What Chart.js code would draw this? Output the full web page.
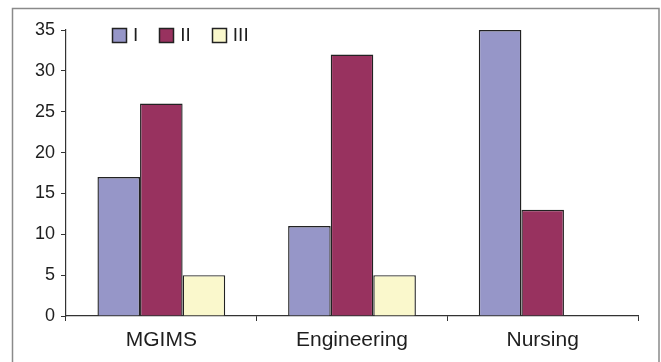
<!DOCTYPE html>
<html>
<head>
<meta charset="utf-8">
<script src="https://cdn.jsdelivr.net/npm/chart.js@4/dist/chart.umd.min.js"></script>
<style>
  html, body { margin: 0; padding: 0; background: #fff; }
  #wrap { width: 661px; height: 362px; }
</style>
</head>
<body>
<div id="wrap"><canvas id="c" width="661" height="362"></canvas></div>
<script>
// Categories and series
const categories = ['MGIMS', 'Engineering', 'Nursing'];
const seriesNames = ['I', 'II', 'III'];
const seriesI = [17, 11, 35];
const seriesII = [26, 32, 13];
const seriesIII = [5, 5, null];
const yTicks = [0, 5, 10, 15, 20, 25, 30, 35];

const fills = ['#9696c8', '#98325f', '#faf8cc'];
const edge = '#222222';
const ink = '#1e1e1e';
const fontFamily = '"Liberation Sans", Arial, sans-serif';

// Frame around the whole figure (open at the bottom)
const framePlugin = {
  id: 'frame',
  beforeDraw(chart) {
    const ctx = chart.ctx;
    ctx.save();
    ctx.strokeStyle = '#8a8a8a';
    ctx.lineWidth = 1.5;
    ctx.beginPath();
    ctx.moveTo(12.5, 362);
    ctx.lineTo(12.5, 8.5);
    ctx.lineTo(659, 8.5);
    ctx.lineTo(659, 362);
    ctx.stroke();
    ctx.restore();
  }
};

// Inline legend drawn inside the plot area, top-left
const inlineLegend = {
  id: 'inlineLegend',
  afterDraw(chart) {
    const ctx = chart.ctx;
    const area = chart.chartArea;
    const box = 14;
    let x = area.left + 46;
    const yMid = area.top + 5;
    ctx.save();
    ctx.font = '19px ' + fontFamily;
    ctx.textBaseline = 'middle';
    ctx.textAlign = 'left';
    chart.data.datasets.forEach(ds => {
      const bx = Math.round(x) + 0.5;
      const by = Math.round(yMid - box / 2) + 0.5;
      ctx.fillStyle = ds.backgroundColor;
      ctx.fillRect(bx, by, box, box);
      ctx.strokeStyle = edge;
      ctx.lineWidth = 1.5;
      ctx.strokeRect(bx, by, box, box);
      ctx.fillStyle = ink;
      const tx = x + box + 7;
      ctx.fillText(ds.label, tx, yMid + 1);
      x = tx + ctx.measureText(ds.label).width + 21;
    });
    ctx.restore();
  }
};

const values = [seriesI, seriesII, seriesIII];
const datasets = seriesNames.map((name, i) => ({
  label: name,
  data: values[i],
  backgroundColor: fills[i],
  borderColor: edge,
  borderWidth: 1.4,
  barPercentage: 1.0,
  categoryPercentage: 0.67
}));

new Chart(document.getElementById('c'), {
  type: 'bar',
  data: { labels: categories, datasets },
  options: {
    responsive: false,
    animation: false,
    devicePixelRatio: 1,
    layout: { padding: { left: 0, top: 30, right: 23, bottom: 0 } },
    plugins: {
      legend: { display: false },
      tooltip: { enabled: false }
    },
    scales: {
      x: {
        offset: true,
        grid: {
          offset: true,
          drawOnChartArea: false,
          drawTicks: true,
          tickLength: 5,
          color: '#333'
        },
        border: { display: true, color: '#333', width: 1.2 },
        ticks: {
          color: ink,
          font: { family: fontFamily, size: 21 },
          padding: 7
        },
        afterFit(scale) { scale.height = 46; }
      },
      y: {
        min: 0,
        max: 35,
        afterBuildTicks(scale) {
          scale.ticks = yTicks.map(v => ({ value: v }));
        },
        grid: {
          drawOnChartArea: false,
          drawTicks: true,
          tickLength: 5,
          color: '#333'
        },
        border: { display: true, color: '#333', width: 1.2 },
        ticks: {
          color: ink,
          font: { family: fontFamily, size: 18 },
          padding: 6
        },
        afterFit(scale) { scale.width = 66; }
      }
    }
  },
  plugins: [framePlugin, inlineLegend]
});
</script>
</body>
</html>
